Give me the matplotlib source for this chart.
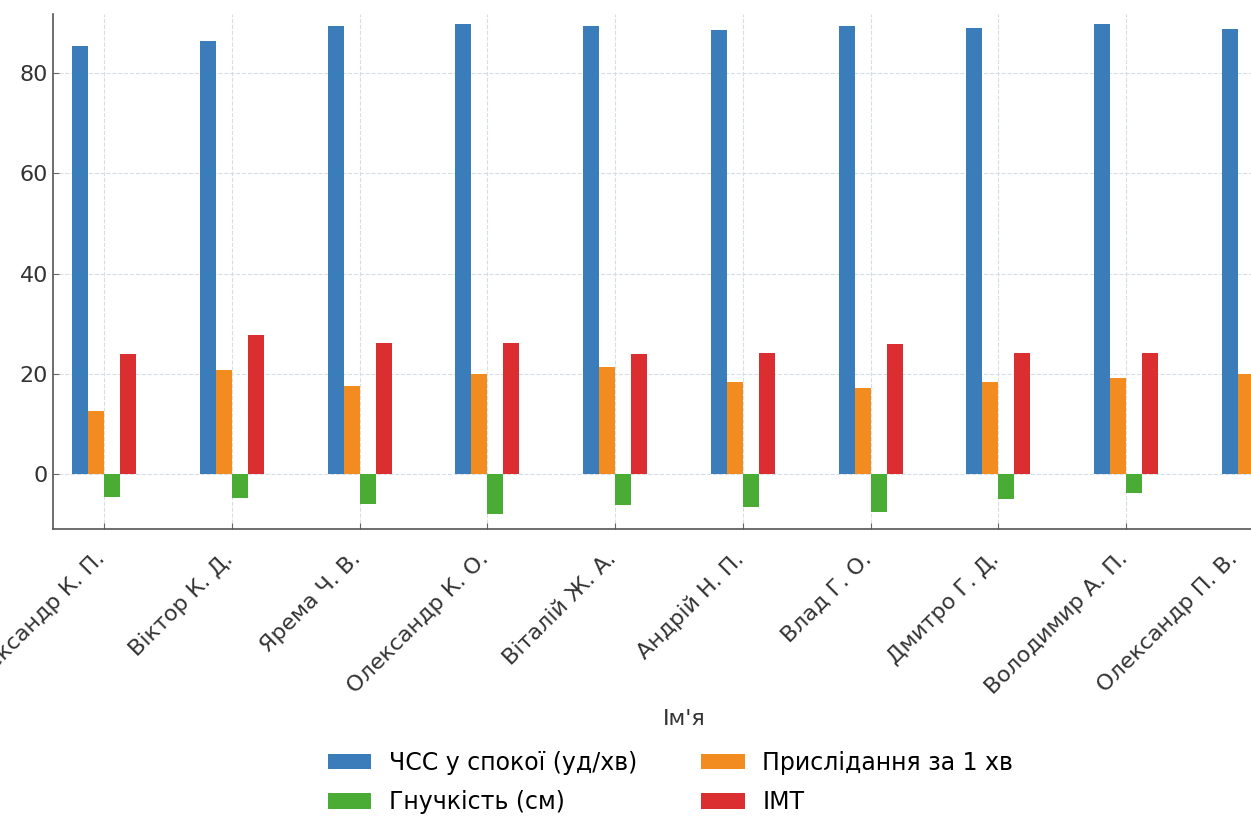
import numpy as np
import matplotlib
matplotlib.use('Agg')
import matplotlib.pyplot as plt
import matplotlib.transforms as mtransforms

# data
names = ['Олександр К. П.', 'Віктор К. Д.', 'Ярема Ч. В.', 'Олександр К. О.', 'Віталій Ж. А.',
         'Андрій Н. П.', 'Влад Г. О.', 'Дмитро Г. Д.', 'Володимир А. П.', 'Олександр П. В.']
hr_rest = [85.4, 86.4, 89.5, 89.8, 89.5, 88.6, 89.4, 89.0, 89.8, 88.8]
squats = [12.6, 20.7, 17.6, 19.9, 21.4, 18.4, 17.2, 18.3, 19.1, 20.0]
flex = [-4.7, -4.9, -6.0, -8.0, -6.3, -6.7, -7.6, -5.1, -3.8, -5.0]
bmi = [23.9, 27.7, 26.1, 26.1, 24.0, 24.1, 26.0, 24.2, 24.1, 24.0]

series = ['ЧСС у спокої (уд/хв)', 'Прислідання за 1 хв', 'Гнучкість (см)', 'ІМТ']
colors = ['#3a7dba', '#f28b20', '#4aab35', '#db2e30']

plt.rcParams['font.family'] = ['DejaVu Sans']

fig = plt.figure(figsize=(12.51, 8.16), dpi=100)
ax = fig.add_axes([0.0424, 0.3517, 1.0008, 0.631])

x = np.arange(len(names))
w = 0.125
vals = [hr_rest, squats, flex, bmi]
bars = []
for k in range(4):
    bars.append(ax.bar(x + (k - 1.5) * w, vals[k], w, color=colors[k], label=series[k], zorder=3))

ax.set_xlim(-0.4, 9.4)
ax.set_ylim(-11, 91.8)
ax.set_yticks([0, 20, 40, 60, 80])
ax.set_xticks(x)
ax.set_xticklabels(names, rotation=45, ha='right', fontsize=16, color='#333333')
ax.tick_params(axis='x', pad=14)
ax.tick_params(axis='y', labelsize=16, colors='#333333')
ax.tick_params(direction='in', length=4, color='#666666')
ax.grid(True, linestyle='--', color='#d5dde6', linewidth=0.8, zorder=0)

# shift rotated labels a bit; the last one is pulled left so it stays inside
shifts = [0.05] * (len(names) - 1) + [-0.12]
for lbl, dx in zip(ax.get_xticklabels(), shifts):
    lbl.set_transform(lbl.get_transform() + mtransforms.ScaledTranslation(dx, 0, fig.dpi_scale_trans))

for s in ['top', 'right']:
    ax.spines[s].set_visible(False)
for s in ['left', 'bottom']:
    ax.spines[s].set_color('#555555')
    ax.spines[s].set_linewidth(1.2)

ax.set_xlabel("Ім'я", fontsize=16, color='#333333')
ax.xaxis.set_label_coords(0.504, -0.369)
ax.xaxis.label.set_va('center')

# legend: column-wise fill, so put items in order for 2 rows
order = [0, 2, 1, 3]
fig.legend([bars[i] for i in order], [series[i] for i in order],
           loc='upper center', bbox_to_anchor=(0.536, 0.106), ncol=2, frameon=False,
           fontsize=17, handlelength=1.85, handleheight=0.63, handletextpad=0.75,
           columnspacing=2.7, labelspacing=0.65)

fig.savefig('out.png', dpi=100)
